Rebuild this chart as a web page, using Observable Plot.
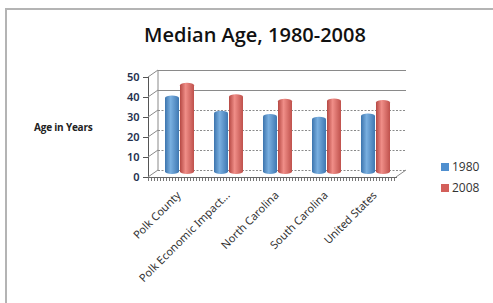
<!DOCTYPE html>
<html>
<head>
<meta charset="utf-8">
<script src="https://cdn.jsdelivr.net/npm/d3@7"></script>
<script src="https://cdn.jsdelivr.net/npm/@observablehq/plot@0.6"></script>
<style>
  html, body { margin: 0; padding: 0; background: #fff; }
  #wrap { position: relative; width: 493px; height: 303px; overflow: hidden; font-family: "Open Sans", sans-serif; }
  #border { position: absolute; left: 5px; top: 8px; right: -10px; bottom: -10px; border-left: 2px solid #b4b4b4; border-top: 2px solid #b4b4b4; }
  #title { position: absolute; left: 0; width: 510px; top: 21px; text-align: center; font-size: 20px; font-weight: 600; color: #111; }
  #ylabel { position: absolute; left: 34px; top: 120px; font-size: 10px; font-weight: 700; color: #222; letter-spacing: -0.2px; }
  #chart { position: absolute; left: 0; top: 0; }
  .leg { position: absolute; left: 441px; font-size: 12px; color: #333; display: flex; align-items: center; }
  .leg span.sw { width: 8px; height: 8px; margin-right: 3px; display: inline-block; }
</style>
</head>
<body>
<div id="wrap">
  <div id="border"></div>
  <div id="chart"></div>
  <div id="title">Median Age, 1980-2008</div>
  <div id="ylabel">Age in Years</div>
  <div id="legend"></div>
</div>
<script>
const categories = ["Polk County", "Polk Economic Impact...", "North Carolina", "South Carolina", "United States"];
const years = ["1980", "2008"];
const values1980 = [39.2, 31.6, 30.0, 28.6, 30.3];
const values2008 = [45.6, 39.9, 37.6, 37.8, 37.0];
const yTicks = [0, 10, 20, 30, 40, 50];
const colors = {"1980": "#4f8fcf", "2008": "#d35f5a"};

const data = [];
categories.forEach((c, i) => {
  data.push({cat: c, year: "1980", value: values1980[i]});
  data.push({cat: c, year: "2008", value: values2008[i]});
});

const DX = 10, DY = -7;

const plot = Plot.plot({
  width: 493,
  height: 303,
  marginLeft: 148,
  marginRight: 97,
  marginTop: 77,
  marginBottom: 126,
  style: {background: "transparent", overflow: "visible"},
  x: {domain: categories, padding: 0, label: null},
  y: {domain: [0, 50], label: null},
  marks: [
    Plot.ruleY(yTicks.filter(d => d >= 40), {dx: DX, dy: DY, stroke: "#8a8a8a", strokeWidth: 1}),
    Plot.ruleY(yTicks.filter(d => d < 40), {dx: DX, dy: DY, stroke: "#8a8a8a", strokeWidth: 1, strokeDasharray: "2,1.5"}),
    Plot.barY(data.filter(d => d.year === "1980"), {x: "cat", y: "value", fill: "url(#g1980)", insetLeft: 10, insetRight: 25, rx: 7, ry: 2.5, dx: 5, dy: -3}),
    Plot.barY(data.filter(d => d.year === "2008"), {x: "cat", y: "value", fill: "url(#g2008)", insetLeft: 25, insetRight: 10, rx: 7, ry: 2.5, dx: 5, dy: -3}),
    Plot.frame({anchor: "left", stroke: "#555"}),
    Plot.frame({anchor: "bottom", stroke: "#666", strokeWidth: 1}),
    Plot.ruleY([0], {dy: 2, stroke: "#777", strokeWidth: 3, strokeDasharray: "1,2"}),
    Plot.axisY(yTicks, {anchor: "left", tickSize: 5, tickPadding: 4, stroke: "#555", fill: "#24304e", fontSize: 11, fontWeight: 600, label: null}),
    Plot.axisX({anchor: "bottom", tickSize: 0, tickRotate: -45, tickPadding: 4, fontSize: 11, fill: "#333", label: null, dx: 4, dy: 12})
  ]
});

const svg = d3.select(plot);
const defs = svg.insert("defs", ":first-child");
function grad(id, dark, light, mid) {
  const g = defs.append("linearGradient").attr("id", id).attr("x1", "0").attr("x2", "1").attr("y1", "0").attr("y2", "0");
  g.append("stop").attr("offset", "0%").attr("stop-color", dark);
  g.append("stop").attr("offset", "40%").attr("stop-color", light);
  g.append("stop").attr("offset", "100%").attr("stop-color", mid);
}
grad("g1980", "#3c74ad", "#79afe0", "#3f78b2");
grad("g2008", "#b54843", "#f08e88", "#bf514c");

const y = plot.scale("y");
const x0 = 148, x1 = 493 - 97;
const g3 = svg.append("g").attr("stroke", "#8a8a8a").attr("fill", "none");
yTicks.forEach(t => {
  const yy = y.apply(t);
  g3.append("line").attr("x1", x0).attr("y1", yy).attr("x2", x0 + DX).attr("y2", yy + DY);
});
g3.append("line").attr("x1", x1).attr("y1", y.apply(0)).attr("x2", x1 + DX).attr("y2", y.apply(0) + DY);
g3.append("line").attr("x1", x0 + DX).attr("y1", y.apply(0) + DY).attr("x2", x0 + DX).attr("y2", y.apply(50) + DY);

document.getElementById("chart").appendChild(plot);

const legend = document.getElementById("legend");
years.forEach((yr, i) => {
  const d = document.createElement("div");
  d.className = "leg";
  d.style.top = (158 + i * 21) + "px";
  d.innerHTML = `<span class="sw" style="background:${colors[yr]}"></span>${yr}`;
  legend.appendChild(d);
});
</script>
</body>
</html>
